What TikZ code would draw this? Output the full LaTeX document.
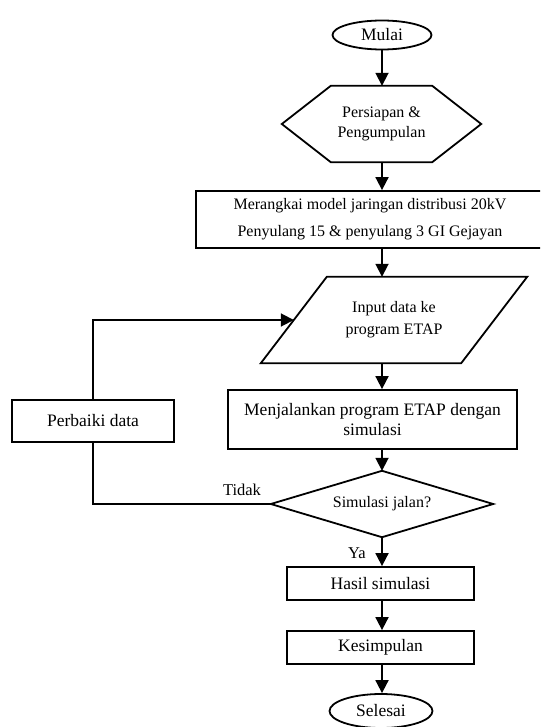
\documentclass[tikz,border=0pt]{standalone}
\usepackage{fontspec}
\setmainfont{Liberation Serif}
\usetikzlibrary{shapes.geometric,arrows.meta,calc}
\begin{document}
\begin{tikzpicture}[x=1pt,y=1pt,
  every node/.style={font=\fontsize{16}{20}\selectfont, align=center, inner sep=0pt},
  line/.style={line width=1.8pt},
  arr/.style={line width=1.8pt,-{Triangle[length=13pt,width=13pt]}},
  boxnode/.style={draw, line width=1.8pt, rectangle},
  ovalnode/.style={draw, line width=1.8pt, ellipse},
  big/.style={font=\fontsize{17.5}{20}\selectfont}]
\clip (0,0) rectangle (540,-727);
% nodes
\node[ovalnode, minimum width=99, minimum height=29, big] (mul) at (382,-35) {Mulai};
\node[minimum width=199, minimum height=76] (hex) at (381.5,-124) {Persiapan \&\\Pengumpulan};
\draw[line] (hex.west) -- ($(hex.north west)+(49,0)$) -- ($(hex.north east)+(-49,0)$) -- (hex.east)
  -- ($(hex.south east)+(-49,0)$) -- ($(hex.south west)+(49,0)$) -- cycle;
\node[boxnode, minimum width=348, minimum height=57, font=\fontsize{16}{27}\selectfont] (mod) at (370,-219.5)
  {Merangkai model jaringan distribusi 20kV\\Penyulang 15 \& penyulang 3 GI Gejayan};
\node[minimum width=266, minimum height=86, font=\fontsize{16}{22}\selectfont] (inp) at (394,-320)
  {Input data ke\\program ETAP};
\draw[line] ($(inp.north west)+(66,0)$) -- (inp.north east) -- ($(inp.south east)+(-66,0)$) -- (inp.south west) -- cycle;
\coordinate (inL) at ($(inp.west)+(33,0)$);
\node[boxnode, minimum width=289, minimum height=59, big] (run) at (372.5,-419.5)
  {Menjalankan program ETAP dengan\\simulasi};
\node[minimum width=222, minimum height=66] (dec) at (382,-504) {Simulasi jalan?};
\draw[line] (dec.north) -- (dec.east) -- (dec.south) -- (dec.west) -- cycle;
\node[boxnode, minimum width=162, minimum height=42, big] (fix) at (93,-421) {Perbaiki data};
\node[boxnode, minimum width=187, minimum height=33, big] (res) at (380.5,-583.5) {Hasil simulasi};
\node[boxnode, minimum width=187, minimum height=33, big] (kes) at (380.5,-647.5) {Kesimpulan};
\node[ovalnode, minimum width=103, minimum height=34, big] (sel) at (381,-711) {Selesai};
\node[font=\fontsize{16.5}{20}\selectfont] (tidak) at (242,-490) {Tidak};
\node[font=\fontsize{16.5}{20}\selectfont] (ya) at (357,-553) {Ya};
% connectors
\coordinate (ax) at (382,0);
\draw[arr] (mul.south) -- (mul.south |- hex.north);
\draw[arr] (hex.south -| ax) -- (mod.north -| ax);
\draw[arr] (mod.south -| ax) -- (inp.north -| ax);
\draw[arr] (inp.south -| ax) -- (run.north -| ax);
\draw[arr] (run.south -| ax) -- (dec.north);
\draw[arr] (dec.south) -- (res.north -| ax);
\draw[arr] (res.south -| ax) -- (kes.north -| ax);
\draw[arr] (kes.south -| ax) -- (sel.north -| ax);
\draw[line] (dec.west) -| (fix.south);
\draw[arr] (fix.north) |- (inL);
\end{tikzpicture}
\end{document}
